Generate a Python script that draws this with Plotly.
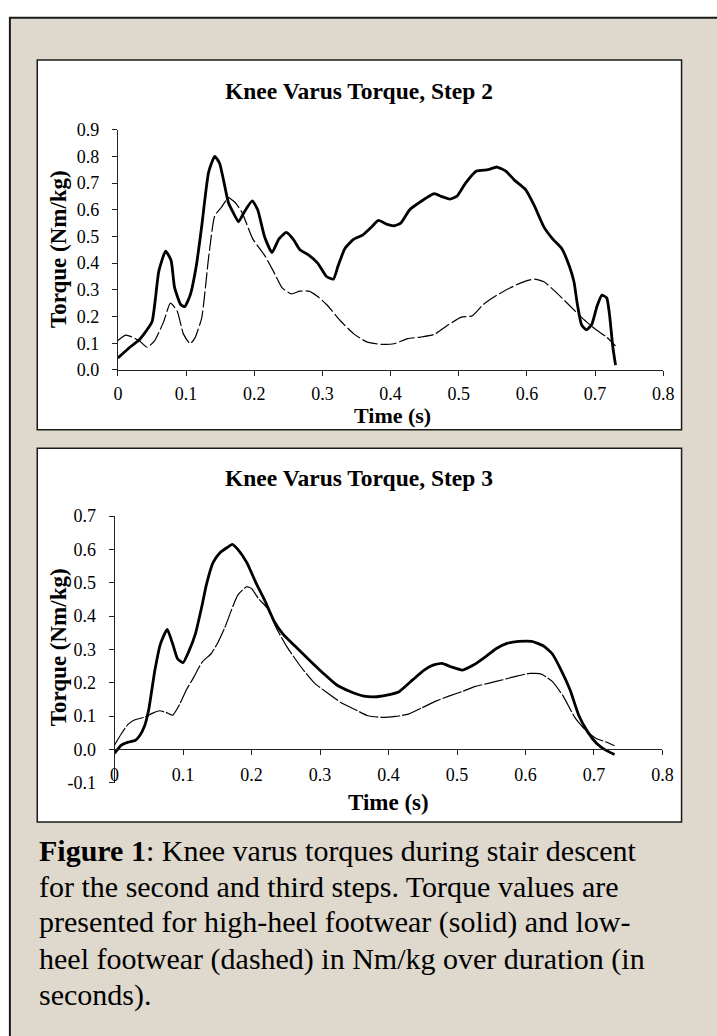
import plotly.graph_objects as go

W, H = 717, 1036

# ---------------- data ----------------
step2_high_t = [0.000, 0.018, 0.031, 0.037, 0.050, 0.060, 0.070, 0.078, 0.083, 0.092, 0.098, 0.106, 0.115,
                0.123, 0.133, 0.142, 0.149, 0.155, 0.162, 0.169, 0.177, 0.185, 0.197, 0.205, 0.215, 0.226,
                0.236, 0.247, 0.257, 0.267, 0.280, 0.293, 0.306, 0.316, 0.323, 0.333, 0.346, 0.359, 0.372,
                0.382, 0.395, 0.405, 0.415, 0.428, 0.444, 0.464, 0.474, 0.487, 0.497, 0.510, 0.526, 0.543,
                0.556, 0.569, 0.582, 0.598, 0.611, 0.625, 0.638, 0.651, 0.662, 0.669, 0.674, 0.680, 0.687,
                0.695, 0.703, 0.710, 0.717, 0.721, 0.726, 0.730]
step2_high_v = [0.045, 0.086, 0.112, 0.130, 0.180, 0.370, 0.445, 0.410, 0.310, 0.245, 0.237, 0.280, 0.390,
                0.540, 0.740, 0.800, 0.775, 0.710, 0.627, 0.590, 0.555, 0.590, 0.633, 0.600, 0.500, 0.440,
                0.490, 0.515, 0.490, 0.450, 0.430, 0.400, 0.350, 0.340, 0.390, 0.455, 0.490, 0.505, 0.535,
                0.560, 0.545, 0.540, 0.550, 0.600, 0.630, 0.660, 0.650, 0.640, 0.650, 0.700, 0.745, 0.750,
                0.760, 0.745, 0.710, 0.675, 0.614, 0.535, 0.490, 0.455, 0.390, 0.330, 0.245, 0.170, 0.150,
                0.170, 0.240, 0.280, 0.270, 0.210, 0.086, 0.018]

step2_low_t = [0.000, 0.011, 0.021, 0.031, 0.043, 0.054, 0.067, 0.077, 0.087, 0.096, 0.106, 0.113, 0.123,
               0.133, 0.142, 0.152, 0.162, 0.172, 0.182, 0.198, 0.215, 0.228, 0.241, 0.254, 0.267, 0.280,
               0.293, 0.306, 0.326, 0.346, 0.365, 0.385, 0.405, 0.425, 0.444, 0.464, 0.483, 0.503, 0.520,
               0.536, 0.556, 0.575, 0.595, 0.611, 0.625, 0.641, 0.661, 0.680, 0.700, 0.717, 0.730]
step2_low_v = [0.110, 0.130, 0.123, 0.110, 0.085, 0.110, 0.180, 0.250, 0.220, 0.135, 0.098, 0.120, 0.196,
               0.420, 0.577, 0.610, 0.645, 0.627, 0.590, 0.490, 0.430, 0.370, 0.307, 0.285, 0.295, 0.295,
               0.275, 0.245, 0.185, 0.135, 0.105, 0.096, 0.098, 0.117, 0.123, 0.133, 0.166, 0.197, 0.203,
               0.245, 0.280, 0.307, 0.330, 0.340, 0.330, 0.295, 0.245, 0.197, 0.153, 0.123, 0.090]

step3_high_t = [0.000, 0.010, 0.020, 0.030, 0.037, 0.044, 0.050, 0.059, 0.067, 0.077, 0.085, 0.092, 0.100,
                0.108, 0.118, 0.128, 0.134, 0.144, 0.154, 0.164, 0.172, 0.180, 0.193, 0.206, 0.220, 0.233,
                0.246, 0.265, 0.285, 0.305, 0.324, 0.344, 0.364, 0.383, 0.403, 0.416, 0.436, 0.452, 0.465,
                0.478, 0.491, 0.508, 0.524, 0.541, 0.557, 0.573, 0.590, 0.609, 0.626, 0.639, 0.652, 0.665,
                0.678, 0.691, 0.704, 0.717, 0.730]
step3_high_v = [-0.012, 0.013, 0.022, 0.027, 0.042, 0.071, 0.120, 0.238, 0.316, 0.360, 0.316, 0.272, 0.260,
                0.292, 0.346, 0.434, 0.493, 0.561, 0.590, 0.605, 0.615, 0.600, 0.561, 0.502, 0.444, 0.385,
                0.346, 0.307, 0.267, 0.228, 0.194, 0.174, 0.160, 0.158, 0.165, 0.174, 0.210, 0.238, 0.253,
                0.258, 0.248, 0.238, 0.253, 0.277, 0.302, 0.318, 0.324, 0.324, 0.311, 0.287, 0.238, 0.179,
                0.101, 0.052, 0.018, -0.002, -0.015]

step3_low_t = [0.000, 0.010, 0.020, 0.030, 0.043, 0.056, 0.066, 0.075, 0.085, 0.095, 0.105, 0.115, 0.128,
               0.141, 0.151, 0.161, 0.170, 0.180, 0.193, 0.200, 0.210, 0.223, 0.236, 0.252, 0.272, 0.292,
               0.311, 0.331, 0.351, 0.370, 0.390, 0.410, 0.429, 0.449, 0.469, 0.488, 0.508, 0.527, 0.547,
               0.567, 0.587, 0.606, 0.623, 0.639, 0.655, 0.672, 0.688, 0.704, 0.717, 0.730]
step3_low_v = [0.013, 0.047, 0.076, 0.089, 0.096, 0.109, 0.116, 0.111, 0.103, 0.135, 0.179, 0.214, 0.262,
               0.287, 0.321, 0.365, 0.414, 0.463, 0.488, 0.483, 0.453, 0.424, 0.365, 0.307, 0.248, 0.199,
               0.169, 0.140, 0.120, 0.101, 0.096, 0.099, 0.106, 0.125, 0.145, 0.160, 0.174, 0.189, 0.199,
               0.209, 0.220, 0.228, 0.226, 0.204, 0.160, 0.096, 0.057, 0.032, 0.023, 0.011]

x_tickvals = [0, 0.1, 0.2, 0.3, 0.4, 0.5, 0.6, 0.7, 0.8]
x_ticktext = ["0", "0.1", "0.2", "0.3", "0.4", "0.5", "0.6", "0.7", "0.8"]
y2_tickvals = [0.0, 0.1, 0.2, 0.3, 0.4, 0.5, 0.6, 0.7, 0.8, 0.9]
y2_ticktext = ["0.0", "0.1", "0.2", "0.3", "0.4", "0.5", "0.6", "0.7", "0.8", "0.9"]
y3_tickvals = [-0.1, 0.0, 0.1, 0.2, 0.3, 0.4, 0.5, 0.6, 0.7]
y3_ticktext = ["-0.1", "0.0", "0.1", "0.2", "0.3", "0.4", "0.5", "0.6", "0.7"]

titles = ["Knee Varus Torque, Step 2", "Knee Varus Torque, Step 3"]
y_title = "Torque (Nm/kg)"
x_title = "Time (s)"
caption_lines = [
    "<b>Figure 1</b>: Knee varus torques during stair descent",
    "for the second and third steps. Torque values are",
    "presented for high-heel footwear (solid) and low-",
    "heel footwear (dashed) in Nm/kg over duration (in",
    "seconds).",
]

# ---------------- helpers ----------------
def px(x):
    return x / W

def py(y):
    return 1 - y / H

FONT = "Liberation Serif, Times New Roman, serif"
BEIGE = "#ded8cd"
INK = "#000000"

fig = go.Figure()

fig.add_trace(go.Scatter(x=step2_high_t, y=step2_high_v, mode="lines", xaxis="x", yaxis="y",
                         line=dict(color=INK, width=2.8, shape="spline", smoothing=0.5), showlegend=False))
fig.add_trace(go.Scatter(x=step2_low_t, y=step2_low_v, mode="lines", xaxis="x", yaxis="y",
                         line=dict(color=INK, width=1.2, dash="16px,3px", shape="spline", smoothing=0.5),
                         showlegend=False))
fig.add_trace(go.Scatter(x=step3_high_t, y=step3_high_v, mode="lines", xaxis="x2", yaxis="y2",
                         line=dict(color=INK, width=2.8, shape="spline", smoothing=0.5), showlegend=False))
fig.add_trace(go.Scatter(x=step3_low_t, y=step3_low_v, mode="lines", xaxis="x2", yaxis="y2",
                         line=dict(color=INK, width=1.2, dash="20px,2px", shape="spline", smoothing=0.5),
                         showlegend=False))

tickfont = dict(family=FONT, size=18, color=INK)
axis_common = dict(showgrid=False, zeroline=False, showline=True, linecolor="#222", linewidth=1,
                   ticks="outside", ticklen=5, tickcolor="#222", tickwidth=1, tickfont=tickfont)

fig.update_layout(
    width=W, height=H,
    margin=dict(l=0, r=0, t=0, b=0),
    paper_bgcolor="white",
    plot_bgcolor="rgba(0,0,0,0)",
    font=dict(family=FONT, color=INK),
    xaxis=dict(domain=[px(115.5), px(673.3)], range=[0, 0.8], anchor="y",
               tickvals=x_tickvals, ticktext=x_ticktext, ticklabelstandoff=2, **axis_common),
    yaxis=dict(domain=[py(367), py(122)], range=[0, 0.9], anchor="x",
               tickvals=y2_tickvals, ticktext=y2_ticktext, ticklabelstandoff=9, **axis_common),
    xaxis2=dict(domain=[px(112), px(672.5)], range=[0, 0.8], anchor="free", position=py(754),
                tickvals=x_tickvals, ticktext=x_ticktext, ticklabelstandoff=4, **axis_common),
    yaxis2=dict(domain=[py(788), py(516)], range=[-0.1, 0.7], anchor="x2",
                tickvals=y3_tickvals, ticktext=y3_ticktext, ticklabelstandoff=9, **axis_common),
)

shapes = [
    dict(type="rect", xref="paper", yref="paper", x0=px(5), x1=px(W + 20), y0=py(H + 20), y1=py(8),
         fillcolor=BEIGE, line=dict(color="#1a1a1a", width=2), layer="below"),
    dict(type="rect", xref="paper", yref="paper", x0=px(33), x1=px(692), y0=py(428), y1=py(51),
         fillcolor="white", line=dict(color="#1a1a1a", width=1.5), layer="below"),
    dict(type="rect", xref="paper", yref="paper", x0=px(33), x1=px(692), y0=py(828), y1=py(447),
         fillcolor="white", line=dict(color="#1a1a1a", width=1.5), layer="below"),
]
fig.update_layout(shapes=shapes)

ann = []
title_font = dict(family=FONT, size=23.5, color=INK)
axt_font = dict(family=FONT, size=23, color=INK)
xt_font = dict(family=FONT, size=22, color=INK)
ann.append(dict(text="<b>%s</b>" % titles[0], x=px(362.5), y=py(83), xref="paper", yref="paper",
                showarrow=False, font=title_font, xanchor="center", yanchor="middle"))
ann.append(dict(text="<b>%s</b>" % titles[1], x=px(362.5), y=py(477), xref="paper", yref="paper",
                showarrow=False, font=title_font, xanchor="center", yanchor="middle"))
ann.append(dict(text="<b>%s</b>" % y_title, x=px(55), y=py(244), xref="paper", yref="paper",
                showarrow=False, font=axt_font, textangle=-90, xanchor="center", yanchor="middle"))
ann.append(dict(text="<b>%s</b>" % y_title, x=px(55), y=py(650), xref="paper", yref="paper",
                showarrow=False, font=axt_font, textangle=-90, xanchor="center", yanchor="middle"))
ann.append(dict(text="<b>%s</b>" % x_title, x=px(396), y=py(413), xref="paper", yref="paper",
                showarrow=False, font=xt_font, xanchor="center", yanchor="middle"))
ann.append(dict(text="<b>%s</b>" % x_title, x=px(392), y=py(808), xref="paper", yref="paper",
                showarrow=False, font=axt_font, xanchor="center", yanchor="middle"))

cap_font = dict(family=FONT, size=30, color=INK)
cap_y = [857, 894, 930, 968, 1004]
for line, yy in zip(caption_lines, cap_y):
    ann.append(dict(text=line, x=px(33), y=py(yy), xref="paper", yref="paper", showarrow=False,
                    font=cap_font, xanchor="left", yanchor="middle"))
fig.update_layout(annotations=ann)

fig.write_html("out.html",
               config={"displayModeBar": False, "staticPlot": True},
               post_script="document.body.style.margin='0px';document.body.style.overflow='hidden';")
